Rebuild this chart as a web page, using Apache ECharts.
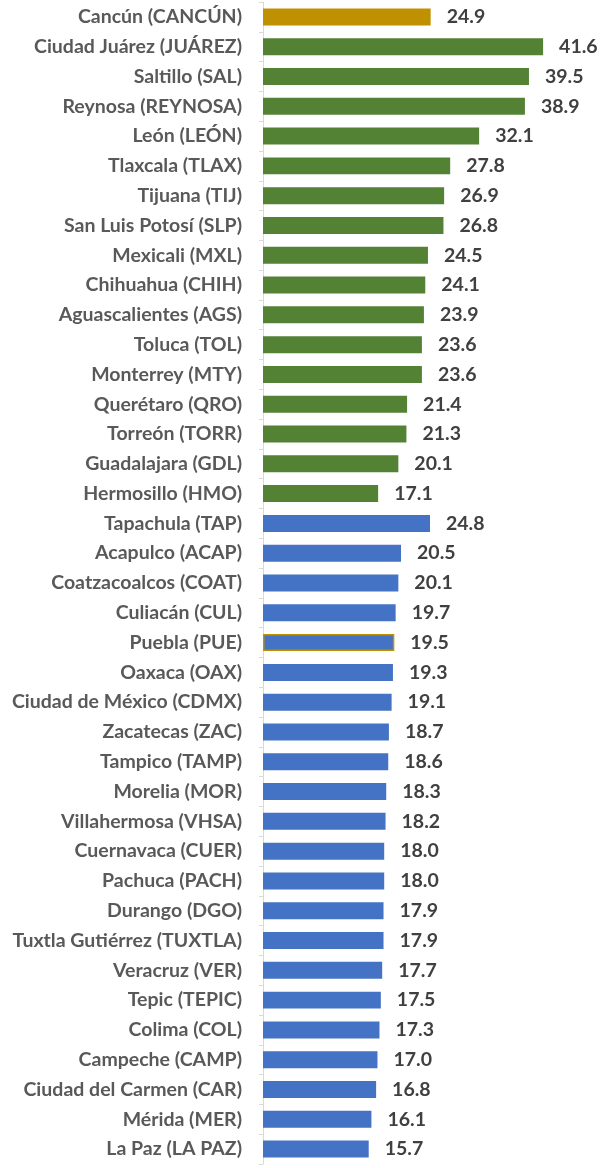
<!DOCTYPE html>
<html>
<head>
<meta charset="utf-8">
<script src="https://cdn.jsdelivr.net/npm/echarts@6/dist/echarts.min.js"></script>
<style>
  html, body { margin: 0; padding: 0; background: #ffffff; }
  #chart { width: 602px; height: 1168px; }
</style>
</head>
<body>
<div id="chart"></div>
<script>
// Cities, in display order (top to bottom)
const cities = [
  'Cancún (CANCÚN)', 'Ciudad Juárez (JUÁREZ)', 'Saltillo (SAL)', 'Reynosa (REYNOSA)',
  'León (LEÓN)', 'Tlaxcala (TLAX)', 'Tijuana (TIJ)', 'San Luis Potosí (SLP)',
  'Mexicali (MXL)', 'Chihuahua (CHIH)', 'Aguascalientes (AGS)', 'Toluca (TOL)',
  'Monterrey (MTY)', 'Querétaro (QRO)', 'Torreón (TORR)', 'Guadalajara (GDL)',
  'Hermosillo (HMO)', 'Tapachula (TAP)', 'Acapulco (ACAP)', 'Coatzacoalcos (COAT)',
  'Culiacán (CUL)', 'Puebla (PUE)', 'Oaxaca (OAX)', 'Ciudad de México (CDMX)',
  'Zacatecas (ZAC)', 'Tampico (TAMP)', 'Morelia (MOR)', 'Villahermosa (VHSA)',
  'Cuernavaca (CUER)', 'Pachuca (PACH)', 'Durango (DGO)', 'Tuxtla Gutiérrez (TUXTLA)',
  'Veracruz (VER)', 'Tepic (TEPIC)', 'Colima (COL)', 'Campeche (CAMP)',
  'Ciudad del Carmen (CAR)', 'Mérida (MER)', 'La Paz (LA PAZ)'
];

// Value per city
const values = [
  24.9, 41.6, 39.5, 38.9, 32.1, 27.8, 26.9, 26.8, 24.5, 24.1, 23.9, 23.6, 23.6,
  21.4, 21.3, 20.1, 17.1, 24.8, 20.5, 20.1, 19.7, 19.5, 19.3, 19.1, 18.7, 18.6,
  18.3, 18.2, 18.0, 18.0, 17.9, 17.9, 17.7, 17.5, 17.3, 17.0, 16.8, 16.1, 15.7
];

// Group of each city: highlight, northern/central group, southern group
const groups = [
  'h', 'g', 'g', 'g', 'g', 'g', 'g', 'g', 'g', 'g', 'g', 'g', 'g', 'g', 'g', 'g', 'g',
  'b', 'b', 'b', 'b', 'b', 'b', 'b', 'b', 'b', 'b', 'b', 'b', 'b', 'b', 'b', 'b', 'b',
  'b', 'b', 'b', 'b', 'b'
];

// Outlined city
const outlined = ['Puebla (PUE)'];

const groupColors = { h: '#BF9000', g: '#548235', b: '#4472C4' };

const seriesData = values.map((v, i) => {
  const item = { value: v, itemStyle: { color: groupColors[groups[i]] } };
  if (outlined.includes(cities[i])) {
    item.itemStyle.borderColor = '#BF9000';
    item.itemStyle.borderWidth = 1.5;
  }
  return item;
});

const chart = echarts.init(document.getElementById('chart'), null, { renderer: 'canvas' });
chart.setOption({
  animation: false,
  backgroundColor: '#ffffff',
  grid: { left: 263, right: 36, top: 2, bottom: 4, containLabel: false },
  xAxis: {
    type: 'value', min: 0, max: 45, show: false
  },
  yAxis: {
    type: 'category',
    data: cities,
    inverse: true,
    axisLine: { show: true, lineStyle: { color: '#D9D9D9', width: 1 } },
    axisTick: { show: true, length: 4, lineStyle: { color: '#D9D9D9' } },
    axisLabel: {
      margin: 21,
      color: '#595959',
      fontFamily: 'Lato',
      fontWeight: 'bold',
      fontSize: 19.5
    }
  },
  series: [{
    type: 'bar',
    data: seriesData,
    barCategoryGap: '43%',
    label: {
      show: true,
      position: 'right',
      distance: 16,
      color: '#404040',
      fontFamily: 'Lato',
      fontWeight: 'bold',
      fontSize: 19.5,
      formatter: p => p.value.toFixed(1)
    }
  }]
});
</script>
</body>
</html>
